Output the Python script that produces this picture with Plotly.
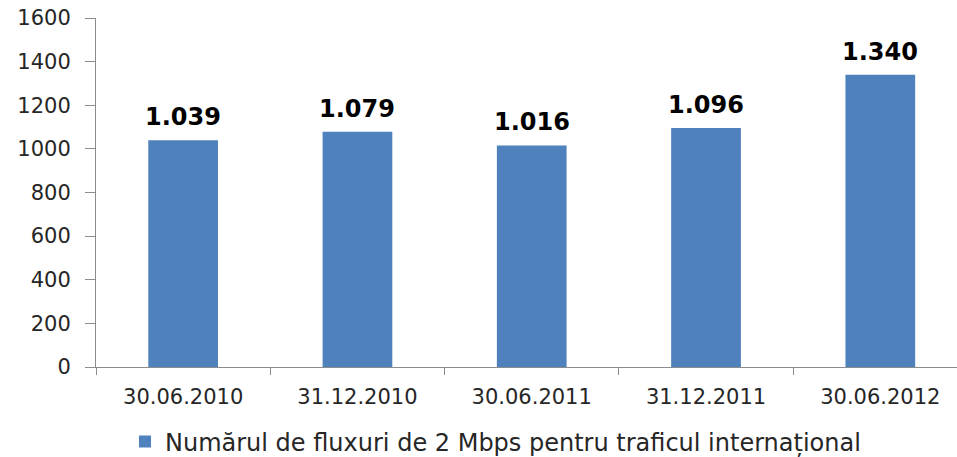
import plotly.graph_objects as go

categories = ["30.06.2010", "31.12.2010", "30.06.2011", "31.12.2011", "30.06.2012"]
values = [1039, 1079, 1016, 1096, 1340]
value_labels = ["1.039", "1.079", "1.016", "1.096", "1.340"]
series_name = "Numărul de fluxuri de 2 Mbps pentru traficul internațional"
y_ticks = [0, 200, 400, 600, 800, 1000, 1200, 1400, 1600]

fig = go.Figure()
fig.add_trace(go.Bar(
    x=categories, y=values, name=series_name,
    marker=dict(color="#4F81BD", line=dict(width=0)),
    showlegend=True,
))

for c, v, t in zip(categories, values, value_labels):
    fig.add_annotation(x=c, y=v, text=f"<b>{t}</b>", showarrow=False,
                       yanchor="bottom", yshift=7,
                       font=dict(family="DejaVu Sans", size=24, color="#000000"))

fig.update_layout(
    width=957, height=457,
    margin=dict(l=96, r=0, t=18, b=90),
    paper_bgcolor="white", plot_bgcolor="white",
    bargap=0.6,
    font=dict(family="DejaVu Sans", size=21, color="#262626"),
    showlegend=True,
    legend=dict(orientation="h", xref="container", yref="container",
                x=0.1306, xanchor="left", y=0.0328, yanchor="middle",
                font=dict(size=24, color="#262626"), itemwidth=30),
    xaxis=dict(
        type="category", range=[-0.5, 4.44], automargin=False,
        showline=True, linecolor="#8C8C8C", linewidth=1,
        ticks="outside", ticklen=7, tickcolor="#8C8C8C", tickson="boundaries",
        showgrid=False, zeroline=False, ticklabelstandoff=11,
    ),
    yaxis=dict(
        range=[0, 1600], tickvals=y_ticks, automargin=False,
        ticklabeloverflow="allow",
        showline=True, linecolor="#8C8C8C", linewidth=1,
        ticks="outside", ticklen=10, tickcolor="#8C8C8C",
        showgrid=False, zeroline=False, ticklabelstandoff=10,
    ),
)

fig.write_html("out.html", config={"displayModeBar": False},
               post_script="document.body.style.margin='0';")
